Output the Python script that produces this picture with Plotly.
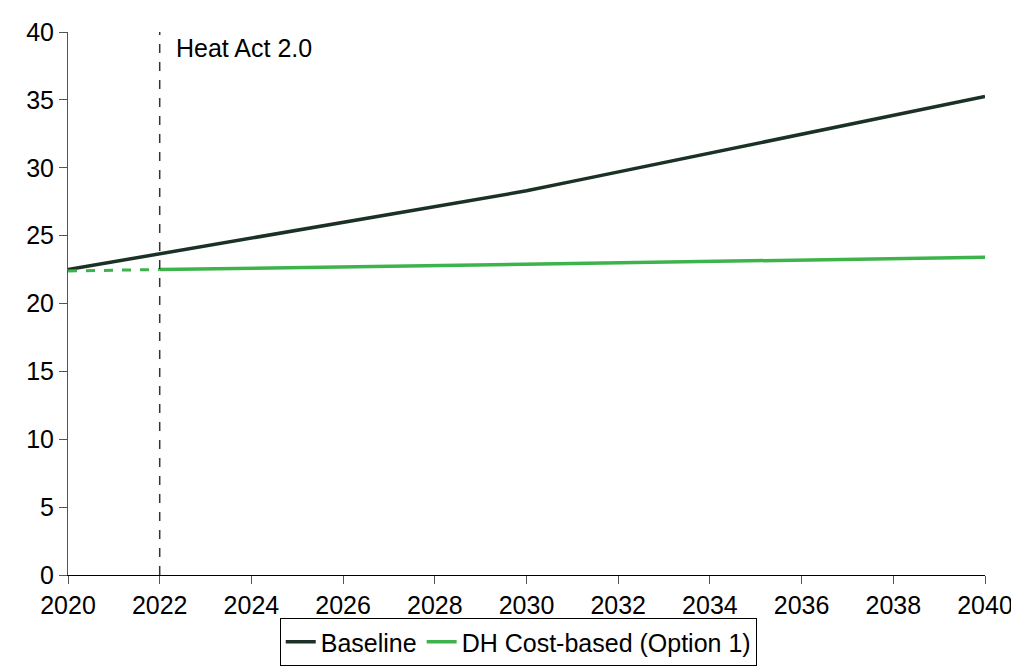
import plotly.graph_objects as go

years = list(range(2020, 2041))
baseline = [22.5, 23.08, 23.66, 24.24, 24.82, 25.4, 25.98, 26.56, 27.14, 27.72, 28.3,
            28.995, 29.69, 30.385, 31.08, 31.775, 32.47, 33.165, 33.86, 34.555, 35.25]
dh_years_dashed = [2020, 2021, 2022]
dh_dashed = [22.4, 22.45, 22.5]
dh_years = list(range(2022, 2041))
dh_solid = [22.5, 22.55, 22.6, 22.65, 22.7, 22.75, 22.8, 22.85, 22.9, 22.95,
            23.0, 23.05, 23.1, 23.15, 23.2, 23.25, 23.3, 23.35, 23.4]
x_ticks = list(range(2020, 2041, 2))
y_ticks = list(range(0, 41, 5))
event_year = 2022
event_label = "Heat Act 2.0"

DARK = "#1b3125"
GREEN = "#3cb44b"
FONT = "Liberation Sans, Arial, sans-serif"
FS = 25

fig = go.Figure()
fig.add_trace(go.Scatter(x=years, y=baseline, mode="lines", name="Baseline",
                         line=dict(color=DARK, width=3.5)))
fig.add_trace(go.Scatter(x=dh_years_dashed, y=dh_dashed, mode="lines", showlegend=False,
                         line=dict(color=GREEN, width=3, dash="dash")))
fig.add_trace(go.Scatter(x=dh_years, y=dh_solid, mode="lines", name="DH Cost-based (Option 1)",
                         line=dict(color=GREEN, width=3.5)))

fig.add_shape(type="line", x0=event_year, x1=event_year, y0=0, y1=40, xref="x", yref="y",
              line=dict(color="#333333", width=1.5, dash="dash"))
fig.add_annotation(x=event_year, y=40, xref="x", yref="y", text=event_label, showarrow=False,
                   xanchor="left", yanchor="top", xshift=14, yshift=0,
                   font=dict(family=FONT, size=FS, color="#000000"))

fig.update_layout(
    width=1011, height=658,
    margin=dict(l=60, r=34, t=24, b=91),
    paper_bgcolor="white", plot_bgcolor="white",
    font=dict(family=FONT, size=FS, color="#000000"),
    showlegend=True,
    legend=dict(orientation="h", x=0.491, xanchor="center",
                yref="container", y=0, yanchor="bottom",
                bordercolor="#000000", borderwidth=1, font=dict(size=FS),
                itemwidth=30, tracegroupgap=0),
)
fig.update_xaxes(range=[2020, 2040], tickvals=x_ticks, ticks="outside", ticklen=8,
                 tickcolor="#555555", showline=True, linecolor="#000000", linewidth=1,
                 showgrid=False, zeroline=False, tickfont=dict(size=FS), automargin=False)
fig.update_yaxes(range=[0, 40], tickvals=y_ticks, ticks="outside", ticklen=8,
                 tickcolor="#555555", showline=True, linecolor="#555555", linewidth=1,
                 showgrid=False, zeroline=False, tickfont=dict(size=FS), automargin=False)

fig.write_html("out.html")
